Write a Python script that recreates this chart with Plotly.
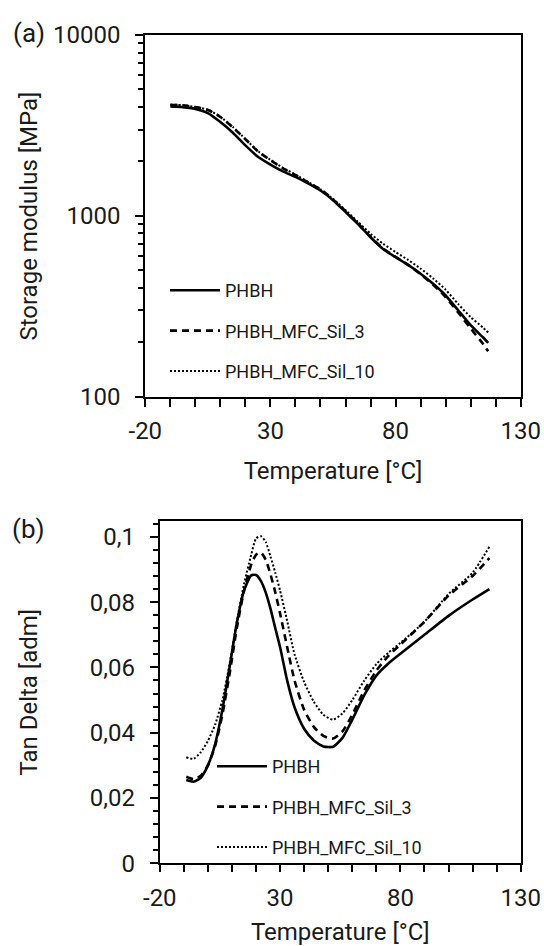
import plotly.graph_objects as go

# ---------------- data ----------------
# (a) storage modulus [MPa] vs temperature
temp_a = [-10, -5, 0, 5, 10, 15, 20, 25, 30, 35, 40, 45, 50, 55, 60, 65, 70, 75, 80, 85, 90, 95, 100, 105, 110, 115, 117]
e_phbh = [4020, 3990, 3900, 3700, 3300, 2880, 2450, 2120, 1920, 1760, 1640, 1510, 1380, 1220, 1050, 900, 760, 655, 590, 535, 478, 420, 362, 300, 248, 212, 198]
e_sil3 = [4100, 4080, 3990, 3850, 3520, 3080, 2650, 2270, 2030, 1830, 1680, 1530, 1400, 1230, 1060, 905, 765, 660, 592, 535, 475, 415, 355, 292, 238, 195, 178]
e_sil10 = [4120, 4090, 4000, 3860, 3530, 3100, 2660, 2280, 2040, 1840, 1690, 1540, 1400, 1240, 1075, 925, 795, 700, 630, 570, 510, 450, 390, 325, 275, 240, 226]

# (b) tan delta vs temperature
temp_b = [-9, -6, -3, 0, 3, 6, 9, 12, 15, 18, 20, 22, 24, 26, 28, 30, 33, 36, 40, 44, 48, 52, 56, 60, 65, 70, 75, 80, 90, 100, 110, 117]
td_phbh = [0.0255, 0.0250, 0.0262, 0.0300, 0.0365, 0.0470, 0.0600, 0.0735, 0.0835, 0.0882, 0.0883, 0.0865, 0.0830, 0.0780, 0.0720, 0.0662, 0.0558, 0.0478, 0.0412, 0.0376, 0.0358, 0.0357, 0.0385, 0.0440, 0.0515, 0.0575, 0.0612, 0.0642, 0.0700, 0.0758, 0.0808, 0.0840]
td_sil3 = [0.0265, 0.0258, 0.0268, 0.0300, 0.0360, 0.0455, 0.0580, 0.0720, 0.0835, 0.0915, 0.0945, 0.0952, 0.0930, 0.0885, 0.0830, 0.0765, 0.0660, 0.0560, 0.0470, 0.0418, 0.0390, 0.0382, 0.0405, 0.0455, 0.0530, 0.0590, 0.0635, 0.0670, 0.0740, 0.0820, 0.0880, 0.0935]
td_sil10 = [0.0325, 0.0320, 0.0340, 0.0375, 0.0425, 0.0500, 0.0610, 0.0740, 0.0855, 0.0945, 0.0995, 0.1002, 0.0985, 0.0940, 0.0890, 0.0835, 0.0740, 0.0640, 0.0555, 0.0495, 0.0455, 0.0440, 0.0460, 0.0500, 0.0560, 0.0610, 0.0645, 0.0675, 0.0740, 0.0825, 0.0890, 0.0970]

series_names = ["PHBH", "PHBH_MFC_Sil_3", "PHBH_MFC_Sil_10"]

x_tickvals = [-20, 30, 80, 130]
x_ticktext = ["-20", "30", "80", "130"]
ya_tickvals = [100, 1000, 10000]
ya_ticktext = ["100", "1000", "10000"]
yb_tickvals = [0, 0.02, 0.04, 0.06, 0.08, 0.1]
yb_ticktext = ["0", "0,02", "0,04", "0,06", "0,08", "0,1"]

# ---------------- figure ----------------
W, H = 544, 946
FONT = "Roboto, Open Sans, sans-serif"
TXT = "#1a1a1a"

styles = [
    dict(color="black", width=2.6, dash="solid"),
    dict(color="black", width=2.6, dash="7px,5px"),
    dict(color="black", width=2.0, dash="2px,2px"),
]

fig = go.Figure()

for name, ys, st, i in zip(series_names, [e_phbh, e_sil3, e_sil10], styles, range(3)):
    fig.add_trace(go.Scatter(
        x=temp_a, y=ys, mode="lines", name=name, line=dict(**st, shape="spline", smoothing=0.6),
        xaxis="x", yaxis="y", legend="legend", legendgroup="a%d" % i,
    ))

for name, ys, st, i in zip(series_names, [td_phbh, td_sil3, td_sil10], styles, range(3)):
    fig.add_trace(go.Scatter(
        x=temp_b, y=ys, mode="lines", name=name, line=dict(**st, shape="spline", smoothing=0.6),
        xaxis="x2", yaxis="y2", legend="legend2", legendgroup="b%d" % i,
    ))


def px_x(p):
    return p / W


def px_y(p):
    return 1 - p / H


axis_common = dict(
    showline=True, linecolor="black", linewidth=2, mirror=True,
    ticks="outside", tickcolor="black", tickwidth=1.5,
    showgrid=False, zeroline=False, automargin=False,
    tickfont=dict(family=FONT, size=24, color=TXT),
    title_font=dict(family=FONT, size=24, color=TXT),
)

minor_x_vals = [v for v in range(-10, 130, 10) if v not in x_tickvals]
minor_log_vals = [m * 10 ** k for k in (2, 3) for m in range(2, 10)]
minor_b_vals = [round(0.004 * k, 3) for k in range(0, 27) if k % 5 != 0]

title_font = dict(family=FONT, size=24, color=TXT)

fig.update_layout(
    width=W, height=H,
    margin=dict(l=0, r=0, t=0, b=0),
    paper_bgcolor="white", plot_bgcolor="white",
    font=dict(family=FONT, color=TXT),
    xaxis=dict(
        axis_common, domain=[px_x(145.3), px_x(520.7)], anchor="y",
        range=[-20, 130], tickvals=x_tickvals, ticktext=x_ticktext, ticklen=8,
        ticklabelstandoff=4,
        minor=dict(tickvals=minor_x_vals, ticks="outside", ticklen=8, tickwidth=1.5, tickcolor="black"),
        title=dict(text="Temperature [°C]", standoff=18),
    ),
    yaxis=dict(
        axis_common, domain=[px_y(396.5), px_y(35)], anchor="x", type="log",
        range=[2, 4], tickvals=ya_tickvals, ticktext=ya_ticktext, ticklen=8,
        minor=dict(tickvals=minor_log_vals, ticks="outside", ticklen=5, tickwidth=1.5, tickcolor="black"),
        ticklabelstandoff=10,
    ),
    xaxis2=dict(
        axis_common, domain=[px_x(159.8), px_x(520.7)], anchor="y2",
        range=[-20, 130], tickvals=x_tickvals, ticktext=x_ticktext, ticklen=7,
        ticklabelstandoff=5,
        minor=dict(tickvals=minor_x_vals, ticks="outside", ticklen=7, tickwidth=1.5, tickcolor="black"),
        title=dict(text="Temperature [°C]", standoff=18),
    ),
    yaxis2=dict(
        axis_common, domain=[px_y(863.3), px_y(520.5)], anchor="x2",
        range=[0, 0.105], tickvals=yb_tickvals, ticktext=yb_ticktext, ticklen=8,
        minor=dict(tickvals=minor_b_vals, ticks="outside", ticklen=5, tickwidth=1.5, tickcolor="black"),
        ticklabelstandoff=10,
    ),
    legend=dict(
        x=px_x(165), y=px_y(272), xanchor="left", yanchor="top",
        bgcolor="rgba(0,0,0,0)", font=dict(family=FONT, size=18, color=TXT),
        tracegroupgap=14, itemwidth=50,
    ),
    legend2=dict(
        x=px_x(212), y=px_y(748), xanchor="left", yanchor="top",
        bgcolor="rgba(0,0,0,0)", font=dict(family=FONT, size=18, color=TXT),
        tracegroupgap=14, itemwidth=50,
    ),
    annotations=[
        dict(text="(a)", x=px_x(28.5), y=px_y(33), xref="paper", yref="paper",
             xanchor="center", yanchor="middle",
             showarrow=False, font=dict(family=FONT, size=26, color=TXT)),
        dict(text="(b)", x=px_x(28.5), y=px_y(529), xref="paper", yref="paper",
             xanchor="center", yanchor="middle",
             showarrow=False, font=dict(family=FONT, size=26, color=TXT)),
        dict(text="Storage modulus [MPa]", textangle=-90, x=px_x(28.6), y=px_y(216),
             xref="paper", yref="paper", xanchor="center", yanchor="middle",
             showarrow=False, font=title_font),
        dict(text="Tan Delta [adm]", textangle=-90, x=px_x(28.6), y=px_y(692),
             xref="paper", yref="paper", xanchor="center", yanchor="middle",
             showarrow=False, font=title_font),
    ],
)

# remove the default 8px page margin so the 544x946 figure fills the window exactly
fig.write_html(
    "out.html",
    config={"displayModeBar": False},
    post_script="document.body.style.margin='0';document.body.style.overflow='hidden';",
)
